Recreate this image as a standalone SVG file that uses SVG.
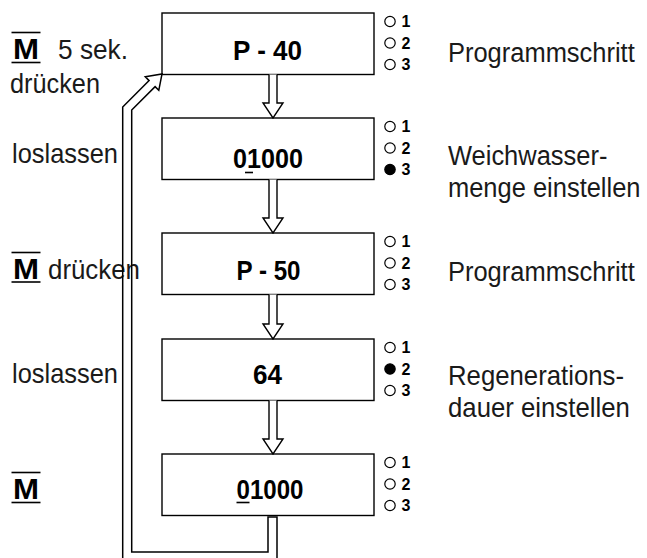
<svg xmlns="http://www.w3.org/2000/svg" width="647" height="558" viewBox="0 0 647 558">
<style>
.box{fill:#fff;stroke:#000;stroke-width:1.4}
.lbl{font-family:"Liberation Sans",Arial,sans-serif;font-size:28px;fill:#1a1a1a}
.val{font-family:"Liberation Sans",Arial,sans-serif;font-size:28px;font-weight:bold;fill:#000}
.m{font-family:"Liberation Sans",Arial,sans-serif;font-size:30px;font-weight:bold;fill:#000}
.dig{font-family:"Liberation Sans",Arial,sans-serif;font-size:16px;font-weight:bold;fill:#000}
.led{fill:#fff;stroke:#000;stroke-width:1.2}
.on{fill:#000;stroke:#000;stroke-width:1.2}
.ul{stroke:#000;stroke-width:1.6}
.arr{fill:#fff;stroke:#000;stroke-width:1.4;stroke-linejoin:miter}
.loop{fill:none;stroke:#000;stroke-width:1.5;stroke-linejoin:miter}
</style>
<rect width="647" height="558" fill="#fff"/>

<g id="labels-left">
  <text class="m" x="13" y="59" textLength="26" lengthAdjust="spacingAndGlyphs">M</text>
  <line class="ul" x1="11.5" y1="32.5" x2="40.5" y2="32.5"/>
  <line class="ul" x1="11.5" y1="62.5" x2="40.5" y2="62.5"/>
  <text class="lbl" x="58" y="59" textLength="70" lengthAdjust="spacingAndGlyphs">5 sek.</text>
  <text class="lbl" x="10" y="93" textLength="90" lengthAdjust="spacingAndGlyphs">drücken</text>

  <text class="lbl" x="12" y="163" textLength="106" lengthAdjust="spacingAndGlyphs">loslassen</text>

  <text class="m" x="13" y="279" textLength="26" lengthAdjust="spacingAndGlyphs">M</text>
  <line class="ul" x1="11.5" y1="252.5" x2="40.5" y2="252.5"/>
  <line class="ul" x1="11.5" y1="282" x2="40.5" y2="282"/>
  <text class="lbl" x="48" y="279" textLength="92" lengthAdjust="spacingAndGlyphs">drücken</text>

  <text class="lbl" x="12" y="383" textLength="106" lengthAdjust="spacingAndGlyphs">loslassen</text>

  <text class="m" x="13" y="499" textLength="26" lengthAdjust="spacingAndGlyphs">M</text>
  <line class="ul" x1="11.5" y1="472.5" x2="40.5" y2="472.5"/>
  <line class="ul" x1="11.5" y1="502.5" x2="40.5" y2="502.5"/>
</g>

<g id="node1">
  <rect class="box" x="162" y="13" width="212" height="61.5"/>
  <text class="val" x="233" y="60" textLength="69" lengthAdjust="spacingAndGlyphs">P - 40</text>
  <circle class="led" cx="390" cy="21.5" r="5.2"/><text class="dig" x="401.5" y="27">1</text>
  <circle class="led" cx="390" cy="43" r="5.2"/><text class="dig" x="401.5" y="48.5">2</text>
  <circle class="led" cx="390" cy="64.5" r="5.2"/><text class="dig" x="401.5" y="70">3</text>
  <text class="lbl" transform="translate(448,62) scale(0.91,1)">Programmschritt</text>
</g>

<g id="node2">
  <rect class="box" x="162" y="118" width="212" height="61.5"/>
  <text class="val" x="233" y="168" textLength="70" lengthAdjust="spacingAndGlyphs">01000</text>
  <line class="ul" x1="245" y1="172.5" x2="253" y2="172.5"/>
  <circle class="led" cx="390" cy="126.5" r="5.2"/><text class="dig" x="401.5" y="132">1</text>
  <circle class="led" cx="390" cy="148" r="5.2"/><text class="dig" x="401.5" y="153.5">2</text>
  <circle class="on" cx="390" cy="169.5" r="5.2"/><text class="dig" x="401.5" y="175">3</text>
  <text class="lbl" transform="translate(448,165) scale(0.91,1)">Weichwasser-</text>
  <text class="lbl" transform="translate(448,197) scale(0.91,1)">menge einstellen</text>
</g>

<g id="node3">
  <rect class="box" x="162" y="233" width="212" height="61.5"/>
  <text class="val" x="236.5" y="280" textLength="64" lengthAdjust="spacingAndGlyphs">P - 50</text>
  <circle class="led" cx="390" cy="241.5" r="5.2"/><text class="dig" x="401.5" y="247">1</text>
  <circle class="led" cx="390" cy="263" r="5.2"/><text class="dig" x="401.5" y="268.5">2</text>
  <circle class="led" cx="390" cy="284.5" r="5.2"/><text class="dig" x="401.5" y="290">3</text>
  <text class="lbl" transform="translate(448,281) scale(0.91,1)">Programmschritt</text>
</g>

<g id="node4">
  <rect class="box" x="162" y="339" width="212" height="61.5"/>
  <text class="val" x="253" y="384" textLength="29" lengthAdjust="spacingAndGlyphs">64</text>
  <circle class="led" cx="390" cy="347.5" r="5.2"/><text class="dig" x="401.5" y="353">1</text>
  <circle class="on" cx="390" cy="369" r="5.2"/><text class="dig" x="401.5" y="374.5">2</text>
  <circle class="led" cx="390" cy="390.5" r="5.2"/><text class="dig" x="401.5" y="396">3</text>
  <text class="lbl" transform="translate(448,385) scale(0.92,1)">Regenerations-</text>
  <text class="lbl" transform="translate(448,417) scale(0.92,1)">dauer einstellen</text>
</g>

<g id="node5">
  <rect class="box" x="162" y="454" width="212" height="61.5"/>
  <text class="val" x="236.5" y="499" textLength="67" lengthAdjust="spacingAndGlyphs">01000</text>
  <line class="ul" x1="236.5" y1="502.5" x2="249.5" y2="502.5"/>
  <circle class="led" cx="390" cy="462.5" r="5.2"/><text class="dig" x="401.5" y="468">1</text>
  <circle class="led" cx="390" cy="484" r="5.2"/><text class="dig" x="401.5" y="489.5">2</text>
  <circle class="led" cx="390" cy="505.5" r="5.2"/><text class="dig" x="401.5" y="511">3</text>
</g>

<g id="connectors">
  <path class="arr" d="M269,74.5 V103 H263 L273,118 L283,103 H277 V74.5"/>
  <path class="arr" d="M269,179.5 V218 H263 L273,233 L283,218 H277 V179.5"/>
  <path class="arr" d="M269,294.5 V324 H263 L273,339 L283,324 H277 V294.5"/>
  <path class="arr" d="M269,400.5 V439 H263 L273,454 L283,439 H277 V400.5"/>
  <path class="loop" d="M277,517 V562 H122.7 V107 L149.1,80.6 L145.3,76.8 L162,74 L158.8,90.3 L155.1,86.6 L131.7,110 V552 H268 V517 Z"/>
</g>
</svg>
